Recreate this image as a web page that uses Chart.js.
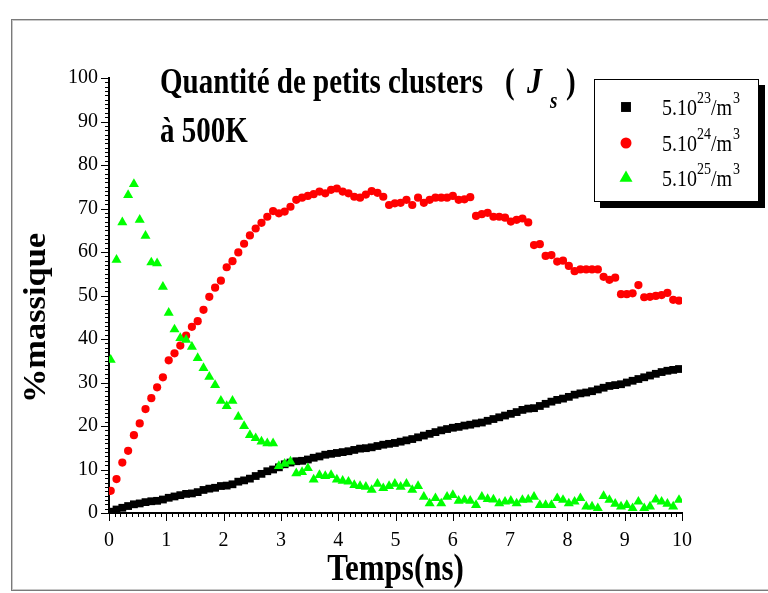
<!DOCTYPE html>
<html lang="fr">
<head>
<meta charset="UTF-8">
<title>Quantité de petits clusters</title>
<script src="https://cdn.jsdelivr.net/npm/chart.js"></script>
<style>
  html, body { margin: 0; padding: 0; background: #fff; }
  #wrap { width: 768px; height: 593px; }
</style>
</head>
<body>
<div id="wrap"><canvas id="clusterChart" width="768" height="593"></canvas></div>
<script>
// sampling of the time axis (ns)
const T0 = 0.03;
const DT = 0.1012;

// % massique of small clusters, one value per time step
const dens23 = [
  0.3, 0.8, 1.2, 1.6, 2.0, 2.2, 2.5, 2.7, 2.8, 3.1,
  3.5, 3.8, 4.1, 4.4, 4.5, 4.8, 5.3, 5.6, 5.8, 6.2,
  6.3, 6.6, 7.2, 7.5, 7.9, 8.5, 9.0, 9.6, 10.0, 10.5,
  11.2, 11.6, 11.9, 12.0, 12.3, 12.7, 13.0, 13.4, 13.6, 13.8,
  14.0, 14.2, 14.5, 14.8, 14.9, 15.1, 15.4, 15.7, 15.9, 16.1,
  16.4, 16.7, 17.0, 17.4, 17.8, 18.2, 18.6, 19.0, 19.3, 19.6,
  19.8, 20.1, 20.3, 20.6, 20.8, 21.2, 21.6, 22.0, 22.4, 22.8,
  23.2, 23.7, 24.0, 24.1, 24.6, 25.1, 25.6, 26.0, 26.3, 26.7,
  27.2, 27.5, 27.7, 28.0, 28.4, 28.8, 29.2, 29.4, 29.6, 30.0,
  30.4, 30.8, 31.2, 31.6, 32.0, 32.4, 32.7, 32.9, 33.1
];
const dens24 = [
  5.1, 7.8, 11.6, 14.3, 17.9, 20.6, 23.9, 26.4, 28.9, 31.2,
  35.1, 36.7, 38.5, 40.8, 42.8, 44.1, 46.7, 49.7, 51.8, 53.4,
  56.5, 57.9, 59.9, 61.9, 63.8, 65.4, 66.7, 68.1, 69.4, 68.9,
  69.3, 70.4, 72.0, 72.5, 72.9, 73.3, 73.9, 73.5, 74.3, 74.6,
  73.9, 73.5, 72.7, 72.5, 73.2, 74.0, 73.6, 72.7, 70.8, 71.2,
  71.3, 72.0, 70.8, 72.5, 71.3, 72.0, 72.5, 72.5, 72.5, 72.9,
  72.0, 72.1, 72.6, 68.3, 68.7, 69.0, 68.1, 68.1, 67.9, 67.0,
  67.4, 67.7, 66.8, 61.6, 61.8, 59.1, 59.3, 57.8, 58.0, 56.8,
  55.6, 56.0, 56.0, 56.0, 56.0, 54.3, 53.6, 54.1, 50.3, 50.3,
  50.5, 52.4, 49.6, 49.7, 49.9, 50.1, 50.6, 49.0, 48.8
];
const dens25 = [
  35.2, 58.2, 66.8, 73.1, 75.6, 67.4, 63.7, 57.6, 57.4, 52.0,
  46.0, 42.2, 40.2, 39.8, 38.2, 35.6, 33.3, 31.3, 29.4, 25.8,
  24.6, 25.8, 22.1, 20.0, 17.9, 17.2, 16.4, 16.0, 16.0, 10.8,
  11.3, 11.8, 9.1, 9.4, 10.3, 7.7, 8.7, 8.5, 8.7, 7.7,
  7.4, 7.2, 6.4, 6.2, 6.0, 5.3, 6.7, 5.7, 6.2, 6.7,
  6.0, 6.7, 5.3, 6.2, 3.7, 2.2, 3.4, 2.2, 3.7, 4.1,
  2.8, 3.0, 2.8, 1.8, 3.7, 3.2, 3.1, 2.2, 2.6, 2.8,
  2.2, 3.0, 3.1, 3.7, 1.8, 1.8, 1.8, 3.4, 3.0, 2.2,
  2.6, 3.4, 1.5, 1.5, 1.1, 3.9, 3.0, 2.1, 1.5, 1.8,
  1.1, 2.6, 1.1, 1.5, 3.1, 2.6, 2.1, 1.5, 3.0
];

const legendExps = ['23', '24', '25'];
const xRange = [0, 10];
const yRange = [0, 100];

const SERIF = "'Liberation Serif', 'Times New Roman', serif";
const STRETCH = 1.2;

function toPoints(vals) {
  return vals.map((v, i) => ({ x: T0 + i * DT, y: v }));
}

// text drawn slightly taller than wide, like the rest of the figure
function stretchText(ctx, str, x, y, font, align) {
  ctx.save();
  ctx.translate(x, y);
  ctx.scale(1, STRETCH);
  ctx.font = font;
  ctx.textAlign = align || 'left';
  ctx.textBaseline = 'alphabetic';
  ctx.fillText(str, 0, 0);
  const w = ctx.measureText(str).width;
  ctx.restore();
  return w;
}

const markerStyles = [
  { pointStyle: 'rect', radius: 5.5, color: '#000000' },
  { pointStyle: 'circle', radius: 4.1, color: '#ff0000' },
  { pointStyle: 'triangle', radius: 5.8, color: '#00ff00' }
];

const decorPlugin = {
  id: 'decor',
  beforeDraw(chart) {
    const ctx = chart.ctx;
    ctx.save();
    ctx.fillStyle = '#fff';
    ctx.fillRect(0, 0, chart.width, chart.height);
    // outer frame
    ctx.strokeStyle = '#7a7a7a';
    ctx.lineWidth = 1;
    ctx.strokeRect(11.5, 19.5, 800, 571);
    ctx.strokeStyle = '#c8c8c8';
    ctx.strokeRect(12.5, 20.5, 800, 569);
    ctx.restore();
  },
  afterDraw(chart) {
    const ctx = chart.ctx;
    const xs = chart.scales.x, ys = chart.scales.y;
    const area = chart.chartArea;
    ctx.save();
    ctx.fillStyle = '#000';
    ctx.strokeStyle = '#000';

    // major and minor tick marks, pointing outwards
    ctx.lineWidth = 1;
    ctx.beginPath();
    for (let k = xRange[0] * 10; k <= xRange[1] * 10; k++) {
      const px = Math.round(xs.getPixelForValue(k / 10)) + 0.5;
      const len = k % 10 === 0 ? 8 : 4;
      ctx.moveTo(px, area.bottom);
      ctx.lineTo(px, area.bottom + len);
    }
    for (let k = yRange[0]; k <= yRange[1]; k++) {
      const py = Math.round(ys.getPixelForValue(k)) + 0.5;
      const len = k % 10 === 0 ? 8 : 4;
      ctx.moveTo(area.left, py);
      ctx.lineTo(area.left - len, py);
    }
    ctx.stroke();

    // axis titles
    stretchText(ctx, 'Temps(ns)', (area.left + area.right) / 2, 580, 'bold 31px ' + SERIF, 'center');
    ctx.save();
    ctx.translate(45, 318);
    ctx.rotate(-Math.PI / 2);
    ctx.scale(1.11, 1);
    ctx.font = 'bold 31px ' + SERIF;
    ctx.textAlign = 'center';
    ctx.fillText('%massique', 0, 0);
    ctx.restore();

    // in-plot title
    stretchText(ctx, 'Quantité de petits clusters', 160, 93, 'bold 29px ' + SERIF);
    stretchText(ctx, '(', 505, 93, 'bold 29px ' + SERIF);
    stretchText(ctx, 'J', 527, 93, 'italic bold 30px ' + SERIF);
    stretchText(ctx, 's', 550, 108, 'italic bold 19px ' + SERIF);
    stretchText(ctx, ')', 566, 93, 'bold 29px ' + SERIF);
    stretchText(ctx, 'à 500K', 160, 142, 'bold 29px ' + SERIF);

    // legend box with drop shadow
    const bx = 594, by = 79, bw = 164, bh = 122;
    ctx.fillStyle = '#000';
    ctx.fillRect(bx + 6, by + 6, bw + 1, bh + 1);
    ctx.fillStyle = '#fff';
    ctx.fillRect(bx, by, bw, bh);
    ctx.lineWidth = 1;
    ctx.strokeStyle = '#000';
    ctx.strokeRect(bx + 0.5, by + 0.5, bw, bh);

    const rows = [115, 151, 186];
    legendExps.forEach((e, i) => {
      const m = markerStyles[i];
      ctx.fillStyle = m.color;
      Chart.helpers.drawPoint(ctx, {
        pointStyle: m.pointStyle, rotation: 0, borderWidth: 0,
        radius: m.pointStyle === 'circle' ? 5.5 : (m.pointStyle === 'rect' ? 7 : 7.5)
      }, 626, rows[i] - 8);
      ctx.fillStyle = '#000';
      let tx = 662;
      tx += stretchText(ctx, '5.10', tx, rows[i], '20px ' + SERIF);
      tx += stretchText(ctx, e, tx, rows[i] - 12, '14px ' + SERIF);
      tx += stretchText(ctx, '/m', tx, rows[i], '20px ' + SERIF);
      stretchText(ctx, '3', tx + 1, rows[i] - 12, '14px ' + SERIF);
    });
    ctx.restore();
  }
};

function makeSet(label, vals, m, order) {
  return {
    label: label,
    data: toPoints(vals),
    pointStyle: m.pointStyle,
    pointRadius: m.radius,
    pointHoverRadius: m.radius,
    backgroundColor: m.color,
    borderColor: m.color,
    borderWidth: 0,
    order: order
  };
}

const tickFont = { family: SERIF, size: 20 };

new Chart(document.getElementById('clusterChart'), {
  type: 'scatter',
  data: {
    datasets: [
      makeSet('5.10^23/m^3', dens23, markerStyles[0], 2),
      makeSet('5.10^24/m^3', dens24, markerStyles[1], 1),
      makeSet('5.10^25/m^3', dens25, markerStyles[2], 0)
    ]
  },
  options: {
    responsive: false,
    animation: false,
    events: [],
    layout: { padding: { top: 78, right: 86, bottom: 0, left: 0 } },
    plugins: { legend: { display: false }, tooltip: { enabled: false } },
    scales: {
      x: {
        type: 'linear',
        min: xRange[0],
        max: xRange[1],
        grid: { display: false, drawTicks: false },
        border: { display: true, color: '#000', width: 2 },
        ticks: { stepSize: 1, color: '#000', font: tickFont, padding: 16, maxRotation: 0 },
        afterFit(scale) { scale.height = 80; }
      },
      y: {
        min: yRange[0],
        max: yRange[1],
        grid: { display: false, drawTicks: false },
        border: { display: true, color: '#000', width: 2 },
        ticks: { stepSize: 10, color: '#000', font: tickFont, padding: 11 },
        afterFit(scale) { scale.width = 109; }
      }
    }
  },
  plugins: [decorPlugin]
});
</script>
</body>
</html>
